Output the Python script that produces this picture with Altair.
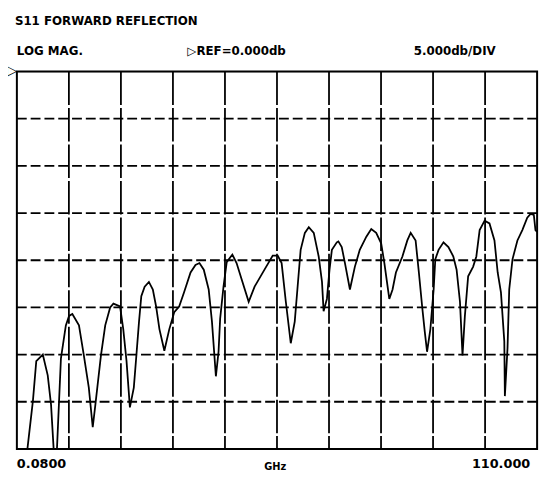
import altair as alt
import pandas as pd

# ---- data (frequency in GHz, S11 in dB) ----
freq_ghz = [
    0.08, 2.31, 3.47, 4.18, 5.56, 6.60, 7.30, 7.85, 8.55, 9.39, 10.43, 11.11, 11.80,
    13.20, 14.24, 15.28, 16.11, 16.67, 17.84, 18.75, 19.79, 20.48, 21.88, 22.56,
    23.25, 23.96, 24.79, 25.33, 25.89, 26.37, 27.08, 27.98, 28.81, 29.50, 30.20,
    31.24, 32.29, 33.33, 34.37, 35.41, 36.78, 37.82, 38.66, 39.57, 40.61, 41.30,
    42.13, 42.69, 43.03, 43.74, 44.42, 45.61, 46.50, 47.55, 49.06, 50.31, 52.40,
    54.14, 55.19, 56.02, 56.91, 57.95, 58.79, 59.35, 60.04, 60.93, 61.76, 62.81,
    63.85, 64.55, 64.89, 65.59, 66.14, 66.64, 67.68, 68.01, 68.72, 69.40, 70.45,
    71.49, 72.53, 73.92, 74.96, 76.00, 77.05, 77.73, 78.77, 79.46, 80.17, 81.54,
    82.58, 83.29, 84.33, 85.02, 85.71, 86.27, 86.75, 87.45, 88.14, 88.49, 89.18,
    90.22, 91.26, 92.30, 92.99, 93.70, 94.24, 94.74, 95.43, 96.47, 97.16, 97.86,
    98.91, 99.94, 100.99, 101.67, 102.36, 103.07, 103.19, 103.75, 104.11, 104.80,
    105.84, 106.88, 107.92, 108.61, 109.31, 109.65, 110.00,
]
s11_db = [
    -40.0, -40.0, -34.9, -30.7, -30.0, -32.2, -35.3, -40.0, -40.0, -30.4, -26.9, -25.9, -25.7,
    -26.9, -30.1, -33.5, -37.7, -35.3, -30.1, -26.9, -25.0, -24.6, -24.9, -27.3,
    -30.7, -35.6, -33.5, -30.1, -26.5, -23.8, -22.8, -22.3, -23.1, -24.9, -27.3,
    -29.6, -27.3, -25.5, -24.9, -23.4, -21.3, -20.5, -20.3, -21.0, -23.1, -26.5,
    -32.3, -29.7, -26.2, -22.8, -20.2, -19.4, -20.3, -22.0, -24.4, -22.8, -21.0,
    -19.5, -19.5, -20.3, -24.4, -28.8, -26.5, -23.1, -18.9, -17.1, -16.5, -17.1,
    -19.6, -22.3, -25.4, -24.1, -21.0, -18.9, -18.1, -18.0, -18.6, -20.3, -23.1,
    -20.7, -18.9, -17.5, -16.7, -17.1, -18.2, -20.3, -24.1, -23.1, -21.3, -19.6,
    -17.9, -17.1, -17.9, -21.3, -24.9, -27.6, -29.7, -27.3, -23.1, -19.9, -18.9,
    -18.1, -18.6, -19.6, -21.0, -24.4, -30.1, -25.9, -21.7, -20.7, -19.6, -16.8,
    -15.8, -16.1, -17.9, -21.3, -23.4, -28.6, -34.4, -29.3, -23.1, -19.9,
    -17.9, -16.8, -15.5, -15.1, -15.2, -16.8, -17.0,
]

x_start, x_stop = 0.08, 110.0
ref_db, db_per_div, n_ydiv, n_xdiv = 0.0, 5.0, 8, 10
x_grid = [x_start + i * (x_stop - x_start) / n_xdiv for i in range(1, n_xdiv)]
y_grid = [ref_db - i * db_per_div for i in range(1, n_ydiv)]
y_min = ref_db - n_ydiv * db_per_div

title_text = "S11 FORWARD REFLECTION"
format_text = "LOG MAG."
ref_text = "\u25b7REF=0.000db"
scale_text = "5.000db/DIV"
start_text = "0.0800"
unit_text = "GHz"
stop_text = "110.000"

W, H = 528, 383
FONT = "DejaVu Sans"

trace = pd.DataFrame({"f": freq_ghz, "db": s11_db})

xs = alt.Scale(domain=[x_start, x_stop], nice=False, zero=False)
ys = alt.Scale(domain=[y_min, ref_db], nice=False, zero=False)

vgrid = alt.Chart(pd.DataFrame({"f": x_grid})).mark_rule(
    color="black", strokeWidth=1.8, strokeDash=[34, 3]
).encode(x=alt.X("f:Q", scale=xs, axis=None))

hgrid = alt.Chart(pd.DataFrame({"db": y_grid})).mark_rule(
    color="black", strokeWidth=1.8, strokeDash=[10, 4]
).encode(y=alt.Y("db:Q", scale=ys, axis=None))

frame = alt.Chart(pd.DataFrame({"f": [x_start], "f2": [x_stop], "db": [y_min], "db2": [ref_db]})).mark_rect(
    fillOpacity=0, stroke="black", strokeWidth=2
).encode(
    x=alt.X("f:Q", scale=xs, axis=None), x2="f2:Q",
    y=alt.Y("db:Q", scale=ys, axis=None), y2="db2:Q",
)

line = alt.Chart(trace).mark_line(
    color="black", strokeWidth=1.8, clip=True, interpolate="linear"
).encode(
    x=alt.X("f:Q", scale=xs, axis=None),
    y=alt.Y("db:Q", scale=ys, axis=None),
    order="f:Q",
)


def label(text, x, y, size=13, align="left", baseline="alphabetic", weight="bold"):
    return alt.Chart(pd.DataFrame({"t": [text]})).mark_text(
        font=FONT, fontSize=size, fontWeight=weight, color="black",
        align=align, baseline=baseline,
    ).encode(text="t:N", x=alt.value(x), y=alt.value(y))


texts = [
    label(title_text, -2, -47, size=12),
    label(format_text, 0, -17, size=12),
    label(ref_text, 173, -17, size=12),
    label(scale_text, 486, -17, size=12, align="right"),
    label("\u25b7", -5, -1, size=14, align="center", baseline="middle", weight="bold"),
    label(start_text, 0, 402, size=13),
    label(unit_text, 251, 404, size=10),
    label(stop_text, 521, 402, size=13, align="right"),
]

chart = alt.layer(vgrid, hgrid, frame, line, *texts).properties(
    width=W, height=H,
    autosize=alt.AutoSizeParams(type="none"),
    padding={"left": 9, "top": 61, "right": 7, "bottom": 26},
).configure_view(stroke=None).configure(background="white")

chart.save("out.html", embed_options={"renderer": "svg", "actions": False})
